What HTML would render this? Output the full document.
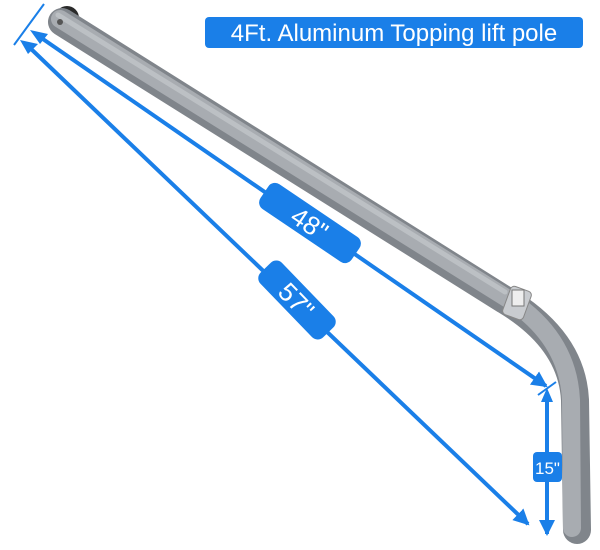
<!DOCTYPE html>
<html><head><style>body{margin:0;background:#fff}svg{display:block}</style></head><body>
<svg width="600" height="550" viewBox="0 0 600 550" xmlns="http://www.w3.org/2000/svg" font-family="Liberation Sans, sans-serif">
<defs>
<marker id="ah" markerWidth="4" markerHeight="4" refX="3.5" refY="2" orient="auto" markerUnits="strokeWidth"><path d="M0,0L4,2L0,4Z" fill="#1a7fe8"/></marker>
</defs>
<circle cx="67" cy="18" r="12" fill="#2a2a2a"/>
<path d="M62,22 L505,300 Q572,340 575,400 L577,530" fill="none" stroke="#80858b" stroke-width="28" stroke-linecap="round"/>
<path d="M60,19 L505,297 Q568,336 571,400 L572,528" fill="none" stroke="#a8acb1" stroke-width="18" stroke-linecap="round"/>
<path d="M58,15 L505,292" fill="none" stroke="#bcc0c4" stroke-width="5" stroke-linecap="round"/>
<circle cx="60" cy="22" r="3" fill="#555"/>
<rect x="506" y="288" width="22" height="30" rx="4" fill="#c9ccd0" stroke="#888" transform="rotate(20 517 303)"/>
<rect x="512" y="290" width="12" height="16" fill="#eee" stroke="#777"/>
<line x1="14" y1="45" x2="44" y2="4" stroke="#1a7fe8" stroke-width="2"/>
<line x1="538" y1="395" x2="556" y2="382" stroke="#1a7fe8" stroke-width="2"/>
<g stroke="#1a7fe8" stroke-width="4">
<line x1="40" y1="37" x2="546" y2="386" marker-end="url(#ah)" />
<line x1="28" y1="46" x2="528" y2="524" marker-end="url(#ah)"/>
<line x1="547" y1="400" x2="547" y2="534" marker-end="url(#ah)"/>
</g>
<path d="M30,30 L48,34 L40,44Z" fill="#1a7fe8"/>
<path d="M20,40 L38,44 L28,54Z" fill="#1a7fe8"/>
<path d="M547,388 L541,402 L553,402Z" fill="#1a7fe8"/>
<g transform="translate(310,223) rotate(34)"><rect x="-55" y="-15" width="110" height="30" rx="8" fill="#1a7fe8"/><text x="0" y="10" font-size="26" fill="#fff" text-anchor="middle">48"</text></g>
<g transform="translate(297,300) rotate(46)"><rect x="-45" y="-15" width="90" height="30" rx="8" fill="#1a7fe8"/><text x="0" y="10" font-size="26" fill="#fff" text-anchor="middle">57"</text></g>
<rect x="533" y="452" width="29" height="30" rx="4" fill="#1a7fe8"/>
<text x="547.5" y="474" font-size="17" fill="#fff" text-anchor="middle">15"</text>
<rect x="205" y="17" width="378" height="31" rx="4" fill="#1a7fe8"/>
<text x="394" y="41" font-size="24" fill="#fff" text-anchor="middle">4Ft. Aluminum Topping lift pole</text>
</svg>
</body></html>
